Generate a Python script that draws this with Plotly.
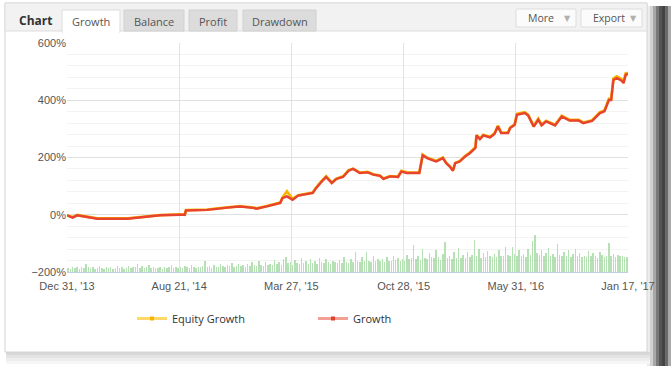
import plotly.graph_objects as go

# ---------------- data ----------------
tick_pos = [0, 100, 200, 300, 400, 500]
tick_labels = ["Dec 31, '13", "Aug 21, '14", "Mar 27, '15", "Oct 28, '15", "May 31, '16", "Jan 17, '17"]

line_x = [0, 5, 9, 27, 54, 83, 101, 105, 106, 125, 143, 154, 166, 169, 178, 190, 192, 196,
          201, 206, 219, 222, 227, 231, 236, 240, 246, 251, 255, 261, 268, 273, 279, 282, 288,
          295, 298, 303, 314, 317, 321, 329, 335, 338, 341, 344, 346, 350, 355, 359, 364, 365,
          368, 371, 377, 381, 384, 387, 393, 395, 399, 401, 408, 411, 416, 420, 423, 427, 435,
          441, 448, 456, 460, 468, 475, 479, 483, 485, 487, 490, 494, 496, 498, 500]

growth = [-2, -10, -2, -14, -14, -2, 0, 0, 15, 17, 25, 29, 24, 21, 29, 41, 58, 64,
          52, 67, 76, 93, 116, 132, 111, 125, 132, 154, 160, 146, 148, 140, 136, 125, 134,
          132, 151, 146, 146, 207, 198, 186, 198, 180, 169, 154, 180, 186, 204, 215, 233, 277,
          264, 277, 270, 282, 308, 285, 285, 303, 314, 349, 355, 347, 308, 332, 312, 326, 312,
          343, 329, 329, 320, 328, 355, 361, 401, 401, 471, 477, 469, 460, 489, 492]

equity = [-2, -9, -1, -13, -13, -1, 1, 0, 16, 18, 26, 30, 25, 22, 30, 42, 60, 82,
          55, 68, 77, 95, 118, 134, 112, 126, 134, 156, 161, 147, 150, 141, 137, 126, 135,
          133, 153, 148, 147, 210, 199, 188, 200, 181, 170, 155, 181, 188, 206, 217, 236, 279,
          266, 279, 272, 284, 311, 287, 287, 305, 316, 352, 358, 349, 310, 335, 314, 328, 314,
          346, 331, 331, 322, 330, 358, 364, 405, 404, 476, 483, 474, 466, 494, 495]

volume = [1.8, 1.5, 2.2, 1.6, 2.0, 1.4, 2.4, 1.7, 3.6, 2.0,
          1.6, 2.1, 1.5, 1.8, 2.5, 1.6, 1.4, 2.0, 1.7, 2.3,
          1.5, 1.9, 2.6, 1.6, 2.2, 1.5, 1.8, 2.8, 1.7, 2.0,
          2.2, 3.4, 1.8, 2.5, 1.6, 2.0, 2.9, 1.7, 2.3, 1.9,
          1.6, 2.1, 1.5, 2.4, 1.8, 2.0, 3.0, 1.7, 2.2, 1.9,
          2.0, 1.7, 2.6, 2.1, 1.8, 2.9, 2.2, 1.6, 2.4, 2.0,
          2.5, 4.6, 2.1, 2.8, 1.9, 3.2, 2.4, 2.0, 3.5, 2.6,
          2.2, 3.0, 2.6, 4.0, 2.3, 2.8, 3.6, 2.5, 3.1, 2.4,
          3.4, 2.8, 4.5, 3.0, 2.6, 5.0, 3.2, 2.7, 4.2, 3.0,
          3.6, 2.9, 5.2, 3.3, 4.4, 3.0, 5.8, 6.5, 3.8, 4.2,
          3.2, 5.4, 4.0, 3.5, 6.0, 3.8, 4.6, 3.4, 5.6, 4.1,
          4.8, 3.6, 6.2, 4.2, 3.9, 5.5, 4.4, 3.7, 5.0, 4.3,
          3.8, 5.2, 4.0, 6.4, 4.5, 3.9, 5.8, 4.3, 8.8, 4.6,
          4.2, 6.6, 4.8, 8.6, 5.0, 4.4, 7.0, 4.9, 5.5, 4.6,
          5.8, 4.5, 6.4, 5.0, 4.7, 7.2, 5.2, 6.0, 4.8, 5.6,
          5.0, 7.5, 5.5, 6.2, 11.8, 5.8, 6.8, 5.3, 10.0, 6.0,
          5.6, 8.2, 6.4, 5.9, 9.5, 6.6, 5.4, 7.8, 13.0, 6.2,
          7.0, 5.8, 8.6, 6.3, 10.5, 6.0, 7.4, 5.9, 8.8, 6.6,
          7.5, 14.0, 6.8, 10.0, 6.2, 8.4, 6.6, 9.2, 7.0, 6.4,
          8.0, 6.5, 9.6, 7.2, 6.8, 10.8, 7.4, 6.9, 11.0, 7.8,
          6.8, 9.4, 7.2, 8.0, 6.6, 10.2, 7.4, 13.5, 16.0, 8.2,
          7.6, 9.8, 6.9, 8.5, 10.4, 7.2, 8.0, 6.7, 12.2, 7.4,
          6.8, 8.8, 7.0, 9.6, 6.4, 7.8, 10.0, 6.9, 8.2, 6.6,
          7.2, 6.5, 9.0, 6.8, 8.4, 7.0, 6.3, 8.8, 7.4, 6.6,
          7.0, 12.6, 6.8, 8.0, 6.4, 7.6, 6.9, 7.2, 6.5, 6.6]
volume_x = [1 + 2 * i for i in range(len(volume))]

tabs = ["Growth", "Balance", "Profit", "Drawdown"]
buttons = ["More", "Export"]

# ---------------- geometry helpers (pixel -> paper) ----------------
W, H = 671, 376
L, R, T, B = 67, 628, 43, 272


def fx(p):
    return (p - L) / (R - L)


def fy(p):
    return (B - p) / (B - T)


UI_FONT = "Open Sans"
AX_FONT = "Liberation Sans, Arial"

fig = go.Figure()

fig.add_trace(go.Bar(x=volume_x, y=volume, yaxis="y2", width=1.3,
                     marker=dict(color="rgba(120,200,120,0.55)", line=dict(width=0)),
                     showlegend=False, hoverinfo="skip"))
fig.add_trace(go.Scatter(x=line_x, y=equity, mode="lines",
                         line=dict(color="#f7b500", width=2.8), showlegend=False))
fig.add_trace(go.Scatter(x=line_x, y=growth, mode="lines",
                         line=dict(color="#e8432e", width=2.4), showlegend=False))
# legend entries
fig.add_trace(go.Scatter(x=[None], y=[None], mode="lines+markers", name="Equity Growth",
                         line=dict(color="rgba(255,200,40,0.7)", width=3),
                         marker=dict(color="#f5b400", size=4, symbol="square")))
fig.add_trace(go.Scatter(x=[None], y=[None], mode="lines+markers", name="Growth",
                         line=dict(color="rgba(235,80,60,0.55)", width=3),
                         marker=dict(color="#e0402a", size=4, symbol="square")))

shapes = []


def rect(x0, y0, x1, y1, fill, line=None, lw=1):
    shapes.append(dict(type="rect", xref="paper", yref="paper", layer="below",
                       x0=fx(x0), x1=fx(x1), y0=fy(y1), y1=fy(y0),
                       fillcolor=fill, line=dict(color=line or fill, width=lw if line else 0)))


# right drop shadow
shadow_cols = ["#ececec", "#d2d2d2", "#a8a8a8", "#7a7a7a", "#555555", "#444444", "#6a6a6a", "#a9a9a9"]
for i, c in enumerate(shadow_cols):
    rect(647 + i * 3, 6, 650 + i * 3, 366, c)
# bottom shadow
bottom_cols = ["#d8d8d8", "#e4e4e4", "#eeeeee", "#f6f6f6"]
for i, c in enumerate(bottom_cols):
    rect(6, 352 + i * 3, 650, 355 + i * 3, c)
# panel
rect(5, 3, 647, 352, "#ffffff", "#d4d4d4", 1)
# top bar
rect(5, 3, 647, 31, "#f2f2f2", "#dddddd", 1)
# tabs
tab_x = [(62, 120), (124, 184), (189, 237), (243, 316)]
for i, (a, b) in enumerate(tab_x):
    if i == 0:
        rect(a, 10, b, 32, "#ffffff", "#dddddd", 1)
    else:
        rect(a, 10, b, 31, "#dcdcdc", "#d0d0d0", 1)
rect(63, 30, 119, 33, "#ffffff")
# buttons
btn_x = [(516, 576), (581, 642)]
for a, b in btn_x:
    rect(a, 9, b, 27, "#fbfbfb", "#dddddd", 1)

annotations = [dict(text="<b>Chart</b>", x=fx(17), y=fy(20), xref="paper", yref="paper",
                    xanchor="left", yanchor="middle", showarrow=False,
                    font=dict(family=UI_FONT, size=12, color="#333333"))]
for (a, b), t in zip(tab_x, tabs):
    annotations.append(dict(text=t, x=fx((a + b) / 2), y=fy(21), xref="paper", yref="paper",
                            xanchor="center", yanchor="middle", showarrow=False,
                            font=dict(family=UI_FONT, size=11, color="#555555")))
for (a, b), t in zip(btn_x, buttons):
    annotations.append(dict(text=t, x=fx(a + 10), y=fy(18), xref="paper", yref="paper",
                            xanchor="left", yanchor="middle", showarrow=False,
                            font=dict(family=UI_FONT, size=10.5, color="#555555")))
    annotations.append(dict(text="▼", x=fx(b - 9), y=fy(18), xref="paper", yref="paper",
                            xanchor="center", yanchor="middle", showarrow=False,
                            font=dict(family="DejaVu Sans", size=8, color="#b0b0b0")))

fig.update_layout(
    width=W, height=H,
    margin=dict(l=L, r=W - R, t=T, b=H - B, pad=0, autoexpand=False),
    paper_bgcolor="#ffffff", plot_bgcolor="rgba(0,0,0,0)",
    shapes=shapes, annotations=annotations,
    bargap=0,
    xaxis=dict(range=[0, 500], tickvals=tick_pos, ticktext=tick_labels,
               showgrid=True, gridcolor="#e3e3e3", gridwidth=1, zeroline=False,
               showline=True, linecolor="#c0d0e0", linewidth=1, ticks="",
               ticklabelstandoff=4,
               tickfont=dict(family=AX_FONT, size=11, color="#555555")),
    yaxis=dict(range=[-200, 600], dtick=200, ticksuffix="%", showgrid=True,
               gridcolor="#e0e0e0", zeroline=False, showline=False, ticks="",
               tickfont=dict(family=AX_FONT, size=11, color="#555555"),
               minor=dict(dtick=40, showgrid=True, gridcolor="#f3f3f3")),
    yaxis2=dict(range=[0, 100], overlaying="y", visible=False),
    legend=dict(orientation="h", x=fx(132), y=fy(304), xanchor="left", yanchor="top",
                entrywidth=136, font=dict(family=UI_FONT, size=11, color="#333333"),
                bgcolor="rgba(0,0,0,0)"),
    showlegend=True,
)

fig.write_html("out.html", config={"displayModeBar": False},
               post_script="document.body.style.margin='0px';document.body.style.padding='0px';")
